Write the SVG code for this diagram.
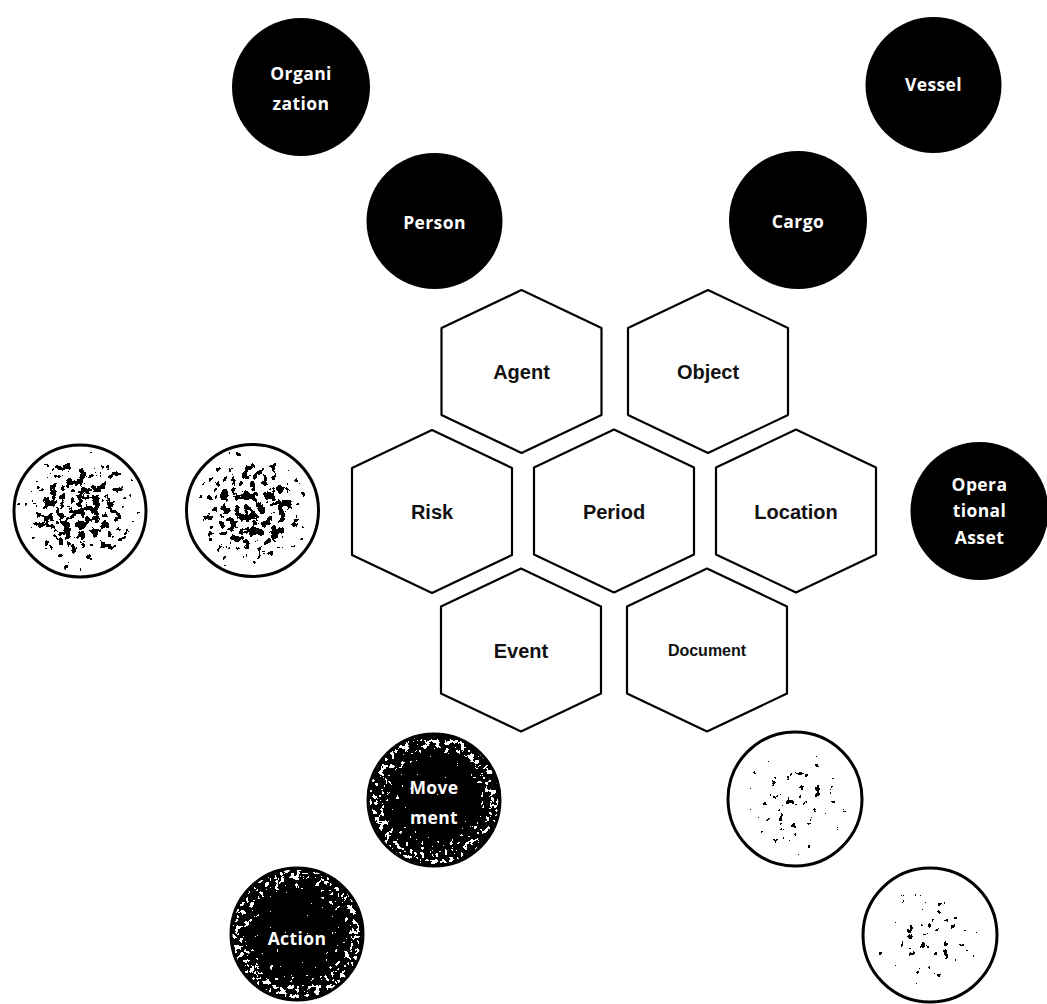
<svg xmlns="http://www.w3.org/2000/svg" width="1047" height="1004" viewBox="0 0 1047 1004">
  <style>
    .hex{fill:#fff;stroke:#000;stroke-width:2.2;stroke-linejoin:round}
    .hl{font-family:"Liberation Sans",Arial,sans-serif;font-weight:bold;font-size:20px;fill:#111;text-anchor:middle;dominant-baseline:central}
    .hl.small{font-size:16px}
    .disc{fill:#000}
    .dl{font-family:"Open Sans","Noto Sans",sans-serif;font-weight:bold;font-size:17.5px;fill:#fff;text-anchor:middle;dominant-baseline:central;letter-spacing:0.4px}
    .ring{fill:#fff;stroke:#000;stroke-width:3}
    .rim{fill:none;stroke:#000;stroke-width:3}
  </style>
  <defs>
    <!-- flat-sided hexagon tile, centred on 0,0 -->
    <path id="hex" d="M0,-81.5 L80,-43.5 L80,43.5 L0,81.5 L-80,43.5 L-80,-43.5 Z"/>
    <!-- ink density: heavy in the middle, thin toward the edge -->
    <radialGradient id="gInk">
      <stop offset="0" stop-color="#000" stop-opacity="0.4"/>
      <stop offset="0.5" stop-color="#000" stop-opacity="0.36"/>
      <stop offset="0.8" stop-color="#000" stop-opacity="0.22"/>
      <stop offset="1" stop-color="#000" stop-opacity="0.08"/>
    </radialGradient>
    <!-- light ink: a few flecks about the middle -->
    <radialGradient id="gFaint">
      <stop offset="0" stop-color="#000" stop-opacity="0.24"/>
      <stop offset="0.45" stop-color="#000" stop-opacity="0.2"/>
      <stop offset="0.8" stop-color="#000" stop-opacity="0.1"/>
      <stop offset="1" stop-color="#000" stop-opacity="0.02"/>
    </radialGradient>
    <!-- wear density: mostly along the rim -->
    <radialGradient id="gRim">
      <stop offset="0" stop-color="#000" stop-opacity="0.04"/>
      <stop offset="0.6" stop-color="#000" stop-opacity="0.12"/>
      <stop offset="0.86" stop-color="#000" stop-opacity="0.34"/>
      <stop offset="0.95" stop-color="#000" stop-opacity="0.3"/>
      <stop offset="1" stop-color="#000" stop-opacity="0.1"/>
    </radialGradient>
    <!-- thresholded noise: density follows the source alpha -->
    <filter id="speckBlack" x="0" y="0" width="1" height="1" color-interpolation-filters="sRGB">
      <feTurbulence type="fractalNoise" baseFrequency="0.14" numOctaves="3" seed="4" result="t"/>
      <feColorMatrix in="t" type="matrix" values="0 0 0 0 0  0 0 0 0 0  0 0 0 0 0  1 0 0 0 0" result="n"/>
      <feComposite in="n" in2="SourceGraphic" operator="arithmetic" k1="0" k2="1" k3="1" k4="0" result="s"/>
      <feComponentTransfer in="s" result="m">
        <feFuncA type="discrete" tableValues="0 0 0 0 0 0 0 0 0 1"/>
      </feComponentTransfer>
      <feFlood flood-color="#000"/>
      <feComposite in2="m" operator="in"/>
    </filter>
    <filter id="speckWhite" x="0" y="0" width="1" height="1" color-interpolation-filters="sRGB">
      <feTurbulence type="fractalNoise" baseFrequency="0.2" numOctaves="3" seed="9" result="t"/>
      <feColorMatrix in="t" type="matrix" values="0 0 0 0 0  0 0 0 0 0  0 0 0 0 0  1 0 0 0 0" result="n"/>
      <feComposite in="n" in2="SourceGraphic" operator="arithmetic" k1="0" k2="1" k3="1" k4="0" result="s"/>
      <feComponentTransfer in="s" result="m">
        <feFuncA type="discrete" tableValues="0 0 0 0 0 0 0 0 0 1"/>
      </feComponentTransfer>
      <feFlood flood-color="#fff"/>
      <feComposite in2="m" operator="in"/>
    </filter>
  </defs>

  <rect width="1047" height="1004" fill="#fff"/>

  <!-- central hexagon cluster -->
  <g id="hex-agent"><use href="#hex" class="hex" x="521.5" y="371.5"/><text class="hl" x="521.5" y="372">Agent</text></g>
  <g id="hex-object"><use href="#hex" class="hex" x="708" y="371.5"/><text class="hl" x="708" y="372">Object</text></g>
  <g id="hex-risk"><use href="#hex" class="hex" x="432" y="511.5"/><text class="hl" x="432" y="512">Risk</text></g>
  <g id="hex-period"><use href="#hex" class="hex" x="614" y="511"/><text class="hl" x="614" y="511.5">Period</text></g>
  <g id="hex-location"><use href="#hex" class="hex" x="796" y="511"/><text class="hl" x="796" y="511.5">Location</text></g>
  <g id="hex-event"><use href="#hex" class="hex" x="521" y="650"/><text class="hl" x="521" y="651">Event</text></g>
  <g id="hex-document"><use href="#hex" class="hex" x="707" y="650"/><text class="hl small" x="707" y="650">Document</text></g>

  <!-- solid discs -->
  <g id="organization"><circle class="disc" cx="301" cy="87" r="69"/><text class="dl" x="301" y="73">Organi</text><text class="dl" x="301" y="103">zation</text></g>
  <g id="person"><circle class="disc" cx="434.5" cy="221" r="68"/><text class="dl" x="434.5" y="222">Person</text></g>
  <g id="vessel"><circle class="disc" cx="933.5" cy="85" r="68"/><text class="dl" x="933.5" y="84">Vessel</text></g>
  <g id="cargo"><circle class="disc" cx="798" cy="220" r="69"/><text class="dl" x="798" y="221">Cargo</text></g>
  <g id="operational-asset"><circle class="disc" cx="979.5" cy="511" r="69"/><text class="dl" x="979.5" y="484">Opera</text><text class="dl" x="979.5" y="510">tional</text><text class="dl" x="979.5" y="537">Asset</text></g>

  <!-- worn dark discs -->
  <g id="movement">
    <circle class="disc" cx="434" cy="800" r="67"/>
    <circle cx="434" cy="800" r="67" fill="url(#gRim)" filter="url(#speckWhite)"/>
    <circle class="rim" cx="434" cy="800" r="66"/>
    <text class="dl" x="434" y="787">Move</text><text class="dl" x="434" y="817">ment</text>
  </g>
  <g id="action">
    <circle class="disc" cx="297" cy="934" r="67"/>
    <circle cx="297" cy="934" r="67" fill="url(#gRim)" filter="url(#speckWhite)"/>
    <circle class="rim" cx="297" cy="934" r="66"/>
    <text class="dl" x="297" y="938">Action</text>
  </g>

  <!-- faded light discs -->
  <g id="risk-a">
    <circle class="ring" cx="80" cy="511" r="66"/>
    <circle cx="80" cy="511" r="63" fill="url(#gInk)" filter="url(#speckBlack)"/>
  </g>
  <g id="risk-b">
    <circle class="ring" cx="252.5" cy="510.5" r="66"/>
    <circle cx="252.5" cy="510.5" r="63" fill="url(#gInk)" filter="url(#speckBlack)"/>
  </g>
  <g id="document-a">
    <circle class="ring" cx="795" cy="799" r="67"/>
    <circle cx="795" cy="799" r="63" fill="url(#gFaint)" filter="url(#speckBlack)"/>
  </g>
  <g id="document-b">
    <circle class="ring" cx="930" cy="935" r="67"/>
    <circle cx="930" cy="935" r="63" fill="url(#gFaint)" filter="url(#speckBlack)"/>
  </g>

  <!-- no links are drawn between the shapes -->
  <g id="connectors"/>
</svg>
